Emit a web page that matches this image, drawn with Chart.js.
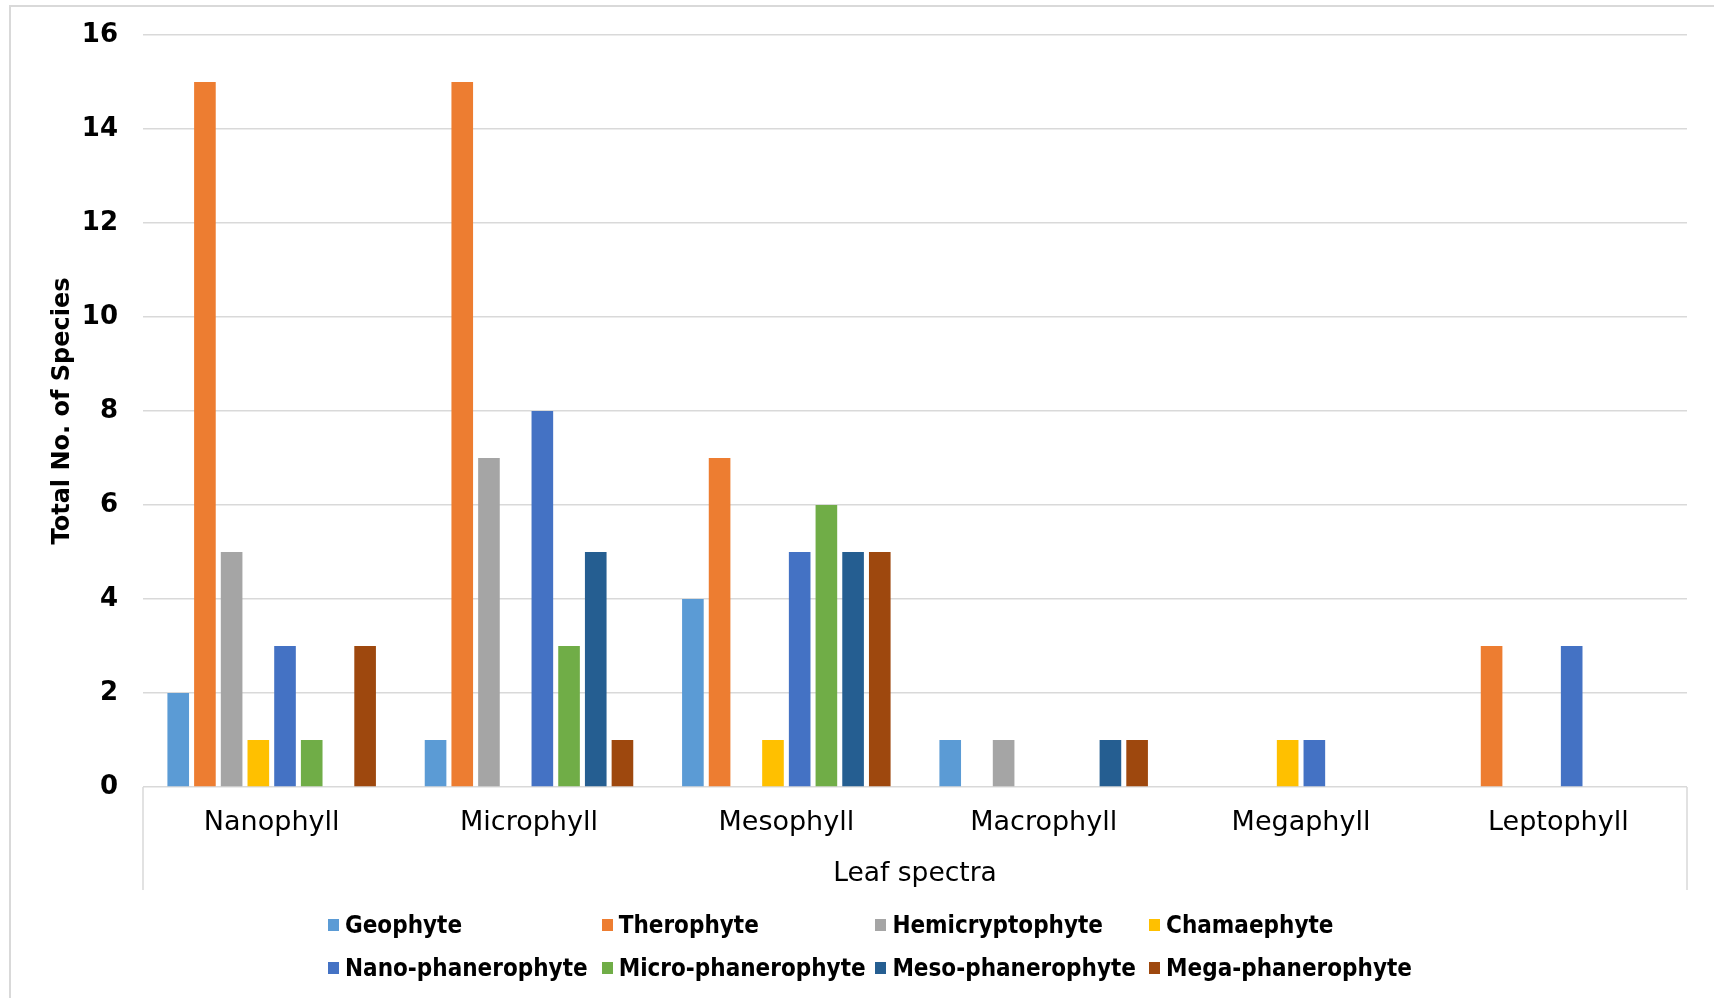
<!DOCTYPE html>
<html>
<head>
<meta charset="utf-8">
<title>Leaf spectra</title>
<script src="https://cdn.jsdelivr.net/npm/chart.js@4.4.1/dist/chart.umd.min.js"></script>
<style>
  html, body { margin: 0; padding: 0; background: #fff; overflow: hidden; }
  #wrap { position: relative; width: 1714px; height: 998px; }
  #frame {
    position: absolute; left: 9px; top: 5px; width: 1720px; height: 1000px;
    border: 2px solid #d9d9d9; box-sizing: border-box;
  }
  #leafChart { position: absolute; left: 0; top: 0; }
  #legend {
    position: absolute; left: 328px; top: 903px;
    display: grid; grid-template-columns: repeat(4, 273.7px);
    font: bold 24px "DejaVu Sans Condensed", "DejaVu Sans", sans-serif; color: #000;
  }
  #legend .item { display: flex; align-items: center; height: 43px; white-space: nowrap; }
  #legend .box { width: 11px; height: 12px; margin-right: 6px; flex: none; }
</style>
</head>
<body>
<div id="wrap">
  <div id="frame"></div>
  <canvas id="leafChart" width="1714" height="998"></canvas>
  <div id="legend"></div>
</div>
<script>
// 葉面積クラスごとの生活形別種数
const categories = ['Nanophyll', 'Microphyll', 'Mesophyll', 'Macrophyll', 'Megaphyll', 'Leptophyll'];

const geophyte          = [2, 1, 4, 1, 0, 0];
const therophyte        = [15, 15, 7, 0, 0, 3];
const hemicryptophyte   = [5, 7, 0, 1, 0, 0];
const chamaephyte       = [1, 0, 1, 0, 1, 0];
const nanoPhanerophyte  = [3, 8, 5, 0, 1, 3];
const microPhanerophyte = [1, 3, 6, 0, 0, 0];
const mesoPhanerophyte  = [0, 5, 5, 1, 0, 0];
const megaPhanerophyte  = [3, 1, 5, 1, 0, 0];

const seriesNames = ['Geophyte', 'Therophyte', 'Hemicryptophyte', 'Chamaephyte',
  'Nano-phanerophyte', 'Micro-phanerophyte', 'Meso-phanerophyte', 'Mega-phanerophyte'];
const seriesValues = [geophyte, therophyte, hemicryptophyte, chamaephyte,
  nanoPhanerophyte, microPhanerophyte, mesoPhanerophyte, megaPhanerophyte];
const seriesColors = ['#5B9BD5', '#ED7D31', '#A5A5A5', '#FFC000',
  '#4472C4', '#70AD47', '#255E91', '#9E480E'];

const yMax = 16;
const yStep = 2;

const GRID = '#d9d9d9';

// カテゴリ軸の左右の枠線
const categoryFrame = {
  id: 'categoryFrame',
  afterDraw(chart) {
    const { ctx } = chart;
    const x = chart.scales.x;
    ctx.save();
    ctx.strokeStyle = GRID;
    ctx.lineWidth = 1.5;
    [x.left, x.right].forEach(px => {
      ctx.beginPath();
      ctx.moveTo(px, x.top);
      ctx.lineTo(px, x.bottom);
      ctx.stroke();
    });
    ctx.restore();
  }
};

const datasets = seriesNames.map((name, i) => ({
  label: name,
  data: seriesValues[i],
  backgroundColor: seriesColors[i],
  borderWidth: 0,
  categoryPercentage: 0.83,
  barPercentage: 0.81
}));

const chart = new Chart(document.getElementById('leafChart'), {
  type: 'bar',
  data: { labels: categories, datasets: datasets },
  options: {
    responsive: false,
    animation: false,
    layout: { padding: { top: 35, right: 27, bottom: 108, left: 0 } },
    scales: {
      x: {
        grid: { display: false },
        border: { display: false },
        ticks: {
          color: '#000',
          padding: 12,
          font: { family: '"DejaVu Sans", sans-serif', size: 27 }
        },
        title: {
          display: true,
          text: 'Leaf spectra',
          color: '#000',
          padding: { top: 0, bottom: 0 },
          font: { family: '"DejaVu Sans", sans-serif', size: 26.5 }
        },
        afterFit(scale) { scale.height = 103; }
      },
      y: {
        min: 0,
        max: yMax,
        grid: { color: GRID, lineWidth: 1.5, drawTicks: false },
        border: { display: false },
        ticks: {
          stepSize: yStep,
          color: '#000',
          padding: 25,
          font: { family: '"DejaVu Sans", sans-serif', size: 26, weight: 'bold' }
        },
        title: {
          display: true,
          text: 'Total No. of Species',
          color: '#000',
          padding: { top: 48, bottom: 0 },
          font: { family: '"DejaVu Sans", sans-serif', size: 24, weight: 'bold' }
        },
        afterFit(scale) {
          scale.width = 143;
          // 目盛りラベル分の上下余白はレイアウトのpaddingで確保する
          scale.paddingTop = 0;
          scale.paddingBottom = 0;
        }
      }
    },
    plugins: {
      legend: { display: false },
      tooltip: { enabled: false }
    }
  },
  plugins: [categoryFrame]
});

// 凡例（4列グリッド）
const legendEl = document.getElementById('legend');
chart.data.datasets.forEach(ds => {
  const item = document.createElement('div');
  item.className = 'item';
  const box = document.createElement('span');
  box.className = 'box';
  box.style.background = ds.backgroundColor;
  const text = document.createElement('span');
  text.textContent = ds.label;
  item.appendChild(box);
  item.appendChild(text);
  legendEl.appendChild(item);
});
</script>
</body>
</html>
